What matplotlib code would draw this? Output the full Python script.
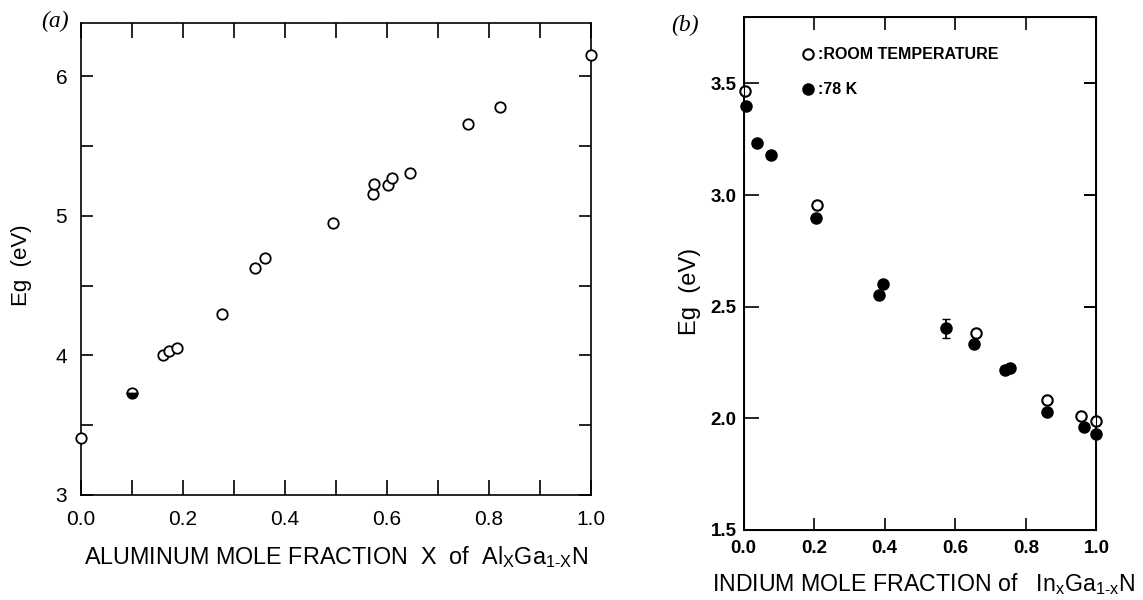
"""Band gap of AlGaN and InGaN versus mole fraction, two panels side by side."""

import matplotlib

matplotlib.use("Agg")
import matplotlib.pyplot as plt  # noqa: E402
from matplotlib.ticker import MultipleLocator, FixedLocator  # noqa: E402

plt.rcParams["font.family"] = ["Liberation Sans", "DejaVu Sans"]
plt.rcParams["mathtext.fontset"] = "custom"
plt.rcParams["mathtext.rm"] = "Liberation Sans"
plt.rcParams["mathtext.bf"] = "Liberation Sans:bold"
plt.rcParams["mathtext.default"] = "regular"

# Panel (a): AlxGa1-xN, room temperature (open circles)
al_x = [0.0, 0.161, 0.172, 0.188, 0.276, 0.341, 0.361, 0.494, 0.572, 0.574,
        0.602, 0.610, 0.645, 0.758, 0.822, 1.0]
al_eg = [3.41, 4.00, 4.03, 4.05, 4.30, 4.63, 4.70, 4.95, 5.16, 5.23,
         5.22, 5.27, 5.31, 5.66, 5.78, 6.15]
# half-filled point
al_half_x = [0.100]
al_half_eg = [3.73]

# Panel (b): InxGa1-xN
in_rt_x = [0.004, 0.209, 0.658, 0.860, 0.957, 1.0]
in_rt_eg = [3.467, 2.955, 2.383, 2.082, 2.010, 1.988]
in_78_x = [0.007, 0.037, 0.077, 0.204, 0.383, 0.395, 0.652, 0.742, 0.756,
           0.860, 0.964, 1.0]
in_78_eg = [3.400, 3.234, 3.180, 2.895, 2.552, 2.601, 2.332, 2.216, 2.226,
            2.029, 1.959, 1.930]
in_err_x = [0.574]
in_err_eg = [2.403]
in_err = [0.042]

fig = plt.figure(figsize=(11.43, 6.0), dpi=100)

# ---- panel (a)
ax1 = fig.add_axes([0.0709, 0.175, 0.4462, 0.787])
ax1.plot(al_x, al_eg, "o", ms=7.5, mfc="white", mec="black", mew=1.3, ls="none",
         clip_on=False, zorder=3)
ax1.plot(al_half_x, al_half_eg, "o", ms=7.5, mfc="black", mfcalt="white",
         fillstyle="bottom", mec="black", mew=1.3, ls="none", clip_on=False)
ax1.set_xlim(0, 1.0)
ax1.set_ylim(3, 6.384)
ax1.xaxis.set_major_locator(MultipleLocator(0.2))
ax1.xaxis.set_minor_locator(MultipleLocator(0.1))
ax1.yaxis.set_major_locator(MultipleLocator(1))
ax1.yaxis.set_minor_locator(MultipleLocator(0.5))
ax1.xaxis.set_major_formatter(matplotlib.ticker.FormatStrFormatter("%.1f"))
ax1.tick_params(axis="x", which="both", direction="in", top=True, length=11,
                width=1.2, labelsize=15, pad=11)
ax1.tick_params(axis="y", which="both", direction="in", right=True, length=8.5,
                width=1.2, labelsize=15, pad=10)
for s in ax1.spines.values():
    s.set_linewidth(1.2)
ax1.set_xlabel(r"ALUMINUM MOLE FRACTION  X  of  Al$_\mathrm{X}$Ga$_\mathrm{1‑X}$N",
               fontsize=16.8)
ax1.set_ylabel("Eg  (eV)", fontsize=16)
ax1.xaxis.set_label_coords(0.5, -0.105)
ax1.yaxis.set_label_coords(-0.097, 0.487)

# ---- panel (b)
ax2 = fig.add_axes([0.6505, 0.1167, 0.3088, 0.8545])
ax2.plot(in_rt_x, in_rt_eg, "o", ms=7.5, mfc="white", mec="black", mew=1.5,
         ls="none", label=":ROOM TEMPERATURE", clip_on=False, zorder=3)
ax2.plot(in_78_x, in_78_eg, "o", ms=8, mfc="black", mec="black", ls="none",
         label=":78 K", clip_on=False, zorder=4)
ax2.errorbar(in_err_x, in_err_eg, yerr=in_err, fmt="o", ms=8, color="black",
             capsize=3, elinewidth=1.3)
ax2.set_xlim(0, 1.0)
ax2.set_ylim(1.5, 3.796)
ax2.xaxis.set_major_locator(MultipleLocator(0.2))
ax2.xaxis.set_major_formatter(matplotlib.ticker.FormatStrFormatter("%.1f"))
ax2.yaxis.set_major_locator(MultipleLocator(0.5))
ax2.yaxis.set_major_formatter(matplotlib.ticker.FormatStrFormatter("%.1f"))
ax2.tick_params(axis="x", direction="in", top=True, length=9, width=1.2,
                labelsize=13.5, pad=7)
ax2.tick_params(axis="y", direction="in", length=10.5, width=1.2,
                labelsize=13.5, pad=5)
for lab in ax2.get_xticklabels() + ax2.get_yticklabels():
    lab.set_fontweight("bold")
for s in ax2.spines.values():
    s.set_linewidth(1.4)
axr = ax2.twinx()
axr.set_ylim(ax2.get_ylim())
axr.yaxis.set_major_locator(FixedLocator([2.5, 3.0, 3.5]))
axr.tick_params(axis="y", direction="in", length=9, width=1.4, labelright=False)
ax2.set_xlabel(r"INDIUM MOLE FRACTION of   In$_\mathrm{x}$Ga$_\mathrm{1‑x}$N",
               fontsize=16.7)
ax2.set_ylabel("Eg  (eV)", fontsize=17)
ax2.xaxis.set_label_coords(0.51, -0.08)
ax2.yaxis.set_label_coords(-0.12, 0.466)
ax2.legend(loc="upper left", bbox_to_anchor=(0.137, 0.963), frameon=False,
           handlelength=0.6, handletextpad=0.35, labelspacing=1.25,
           prop={"weight": "bold", "size": 11.5}, borderaxespad=0.3)

fig.text(0.048, 0.965, "(a)", family="Liberation Serif", style="italic",
         fontsize=17, ha="center", va="center")
fig.text(0.599, 0.957, "(b)", family="Liberation Serif", style="italic",
         fontsize=17, ha="center", va="center")

fig.savefig("out.png", dpi=100)
